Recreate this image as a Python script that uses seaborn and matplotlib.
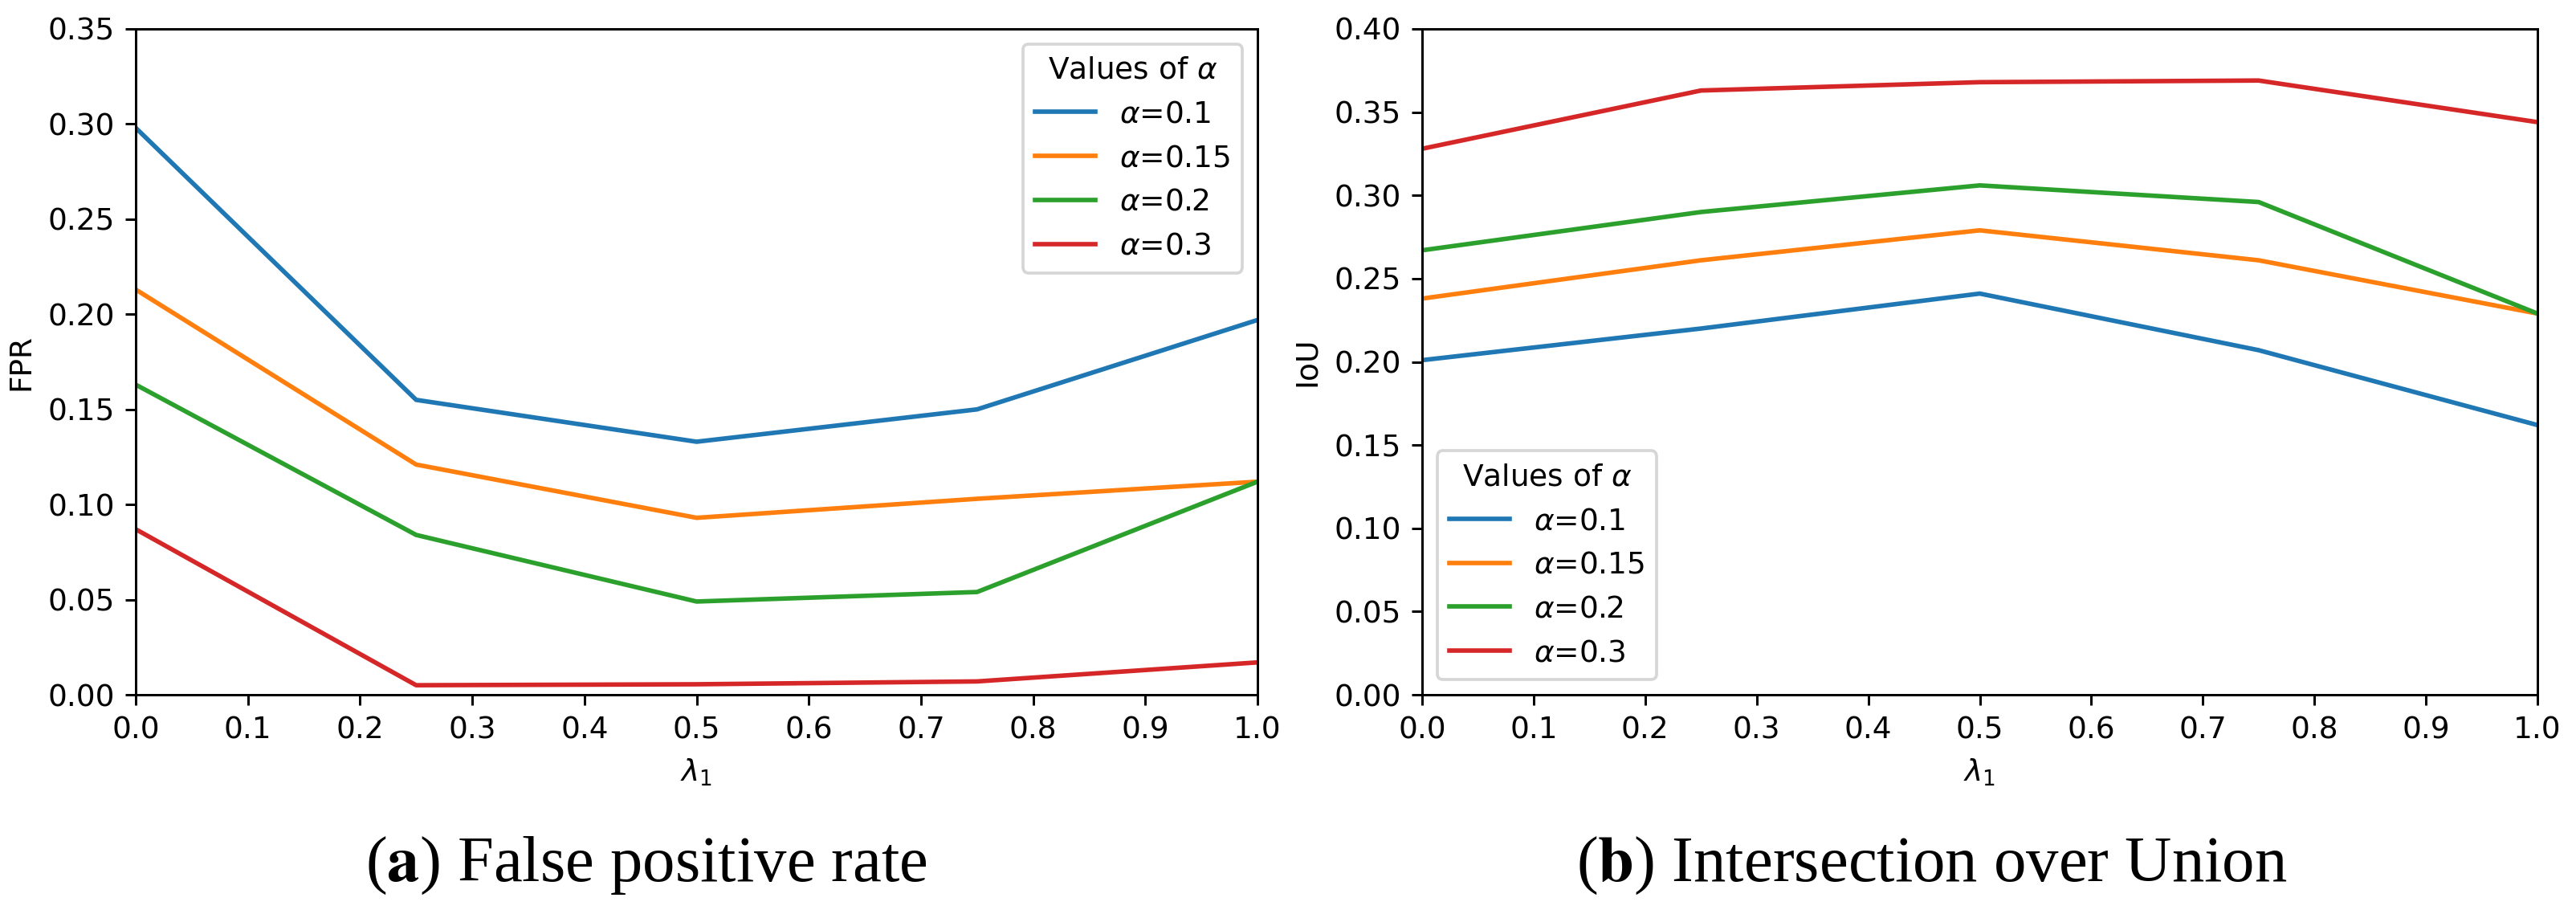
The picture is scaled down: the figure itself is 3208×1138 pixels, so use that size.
import numpy as np
import pandas as pd
import matplotlib
matplotlib.use("Agg")
import matplotlib.pyplot as plt
import seaborn as sns


lam = [0.0, 0.25, 0.5, 0.75, 1.0]
alphas = ["0.1", "0.15", "0.2", "0.3"]

# FPR for each alpha
fpr_01 = [0.298, 0.155, 0.133, 0.150, 0.197]
fpr_015 = [0.213, 0.121, 0.093, 0.103, 0.112]
fpr_02 = [0.163, 0.084, 0.049, 0.054, 0.112]
fpr_03 = [0.087, 0.005, 0.0055, 0.007, 0.017]

# IoU for each alpha
iou_01 = [0.201, 0.220, 0.241, 0.207, 0.162]
iou_015 = [0.238, 0.261, 0.279, 0.261, 0.229]
iou_02 = [0.267, 0.290, 0.306, 0.296, 0.229]
iou_03 = [0.328, 0.363, 0.368, 0.369, 0.344]


def long_df(series):
    rows = []
    for a, vals in zip(alphas, series):
        for x, v in zip(lam, vals):
            rows.append({"lam": x, "val": v, "alpha": r"$\alpha$=" + a})
    return pd.DataFrame(rows)


fpr = long_df([fpr_01, fpr_015, fpr_02, fpr_03])
iou = long_df([iou_01, iou_015, iou_02, iou_03])

DPI = 270
fig = plt.figure(figsize=(3208 / DPI, 1138 / DPI), dpi=DPI)
ax1 = fig.add_axes([169 / 3208, 1 - 865 / 1138, 1397 / 3208, 829 / 1138])
ax2 = fig.add_axes([1771 / 3208, 1 - 865 / 1138, 1389 / 3208, 829 / 1138])

pal = sns.color_palette("tab10", 4)

sns.lineplot(data=fpr, x="lam", y="val", hue="alpha", palette=pal, ax=ax1)
ax1.set_xlim(0, 1)
ax1.set_ylim(0, 0.35)
ax1.set_xticks(np.arange(0, 1.01, 0.1))
ax1.set_xlabel(r"$\lambda_1$")
ax1.set_ylabel("FPR")
ax1.legend(title=r"Values of $\alpha$", loc="upper right")

sns.lineplot(data=iou, x="lam", y="val", hue="alpha", palette=pal, ax=ax2)
ax2.set_xlim(0, 1)
ax2.set_ylim(0, 0.40)
ax2.set_xticks(np.arange(0, 1.01, 0.1))
ax2.set_xlabel(r"$\lambda_1$")
ax2.set_ylabel("IoU")
ax2.legend(title=r"Values of $\alpha$", loc="lower left")

# subfigure captions
fig.text(0.251, 41 / 1138, r"($\mathbf{a}$) False positive rate", ha="center",
         va="baseline", fontsize=21.5, family="Liberation Serif", math_fontfamily="stix")
fig.text(0.75, 41 / 1138, r"($\mathbf{b}$) Intersection over Union", ha="center",
         va="baseline", fontsize=21.5, family="Liberation Serif", math_fontfamily="stix")

fig.savefig("out.png", dpi=DPI)
